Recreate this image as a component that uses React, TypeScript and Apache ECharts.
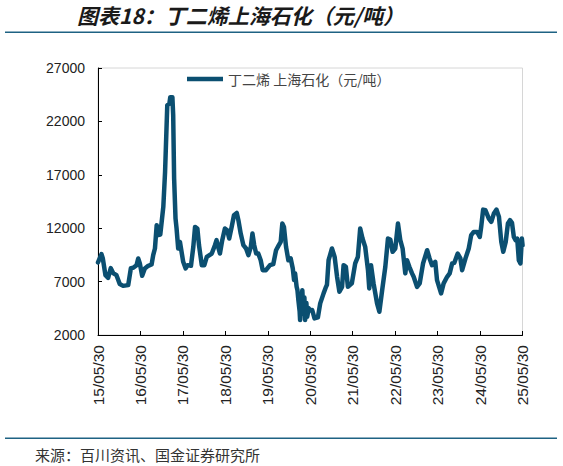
import React, { useEffect, useRef } from "react";
import * as echarts from "echarts";

const titleText = "图表18：丁二烯上海石化（元/吨）";
const sourceText = "来源：百川资讯、国金证券研究所";
const seriesName = "丁二烯 上海石化（元/吨）";

const xTickLabels = [
  "15/05/30", "16/05/30", "17/05/30", "18/05/30", "19/05/30", "20/05/30",
  "21/05/30", "22/05/30", "23/05/30", "24/05/30", "25/05/30",
];
const yTicks = [2000, 7000, 12000, 17000, 22000, 27000];

const dates = [
  "2015-05-30", "2015-06-29", "2015-07-10", "2015-08-02", "2015-08-25", "2015-09-17",
  "2015-10-07", "2015-11-05", "2015-12-03", "2016-01-01", "2016-02-14", "2016-03-08",
  "2016-03-28", "2016-04-26", "2016-05-10", "2016-05-24", "2016-06-13", "2016-07-06",
  "2016-08-04", "2016-09-02", "2016-09-16", "2016-10-01", "2016-10-16", "2016-10-29",
  "2016-11-16", "2016-11-28", "2016-12-12", "2016-12-27", "2017-01-15", "2017-02-02",
  "2017-02-10", "2017-02-28", "2017-03-07", "2017-03-15", "2017-03-27", "2017-04-05",
  "2017-04-19", "2017-05-04", "2017-05-18", "2017-06-01", "2017-06-22", "2017-07-09",
  "2017-08-07", "2017-08-27", "2017-09-11", "2017-10-01", "2017-10-15", "2017-11-08",
  "2017-11-30", "2017-12-21", "2018-02-02", "2018-03-01", "2018-03-15", "2018-03-29",
  "2018-04-13", "2018-05-03", "2018-05-26", "2018-06-15", "2018-07-02", "2018-07-23",
  "2018-08-12", "2018-09-05", "2018-09-19", "2018-10-09", "2018-11-01", "2018-11-24",
  "2018-12-14", "2019-01-04", "2019-01-18", "2019-02-02", "2019-02-19", "2019-03-09",
  "2019-03-30", "2019-04-16", "2019-05-14", "2019-06-18", "2019-07-16", "2019-08-09",
  "2019-08-28", "2019-09-18", "2019-10-02", "2019-10-16", "2019-11-03", "2019-11-23",
  "2019-12-13", "2019-12-31", "2020-01-11", "2020-01-20", "2020-02-02", "2020-02-09",
  "2020-02-17", "2020-02-28", "2020-03-03", "2020-03-11", "2020-03-22", "2020-04-01",
  "2020-04-09", "2020-04-15", "2020-04-26", "2020-05-03", "2020-05-16", "2020-05-29",
  "2020-06-15", "2020-07-05", "2020-08-03", "2020-08-23", "2020-09-21", "2020-10-12",
  "2020-10-20", "2020-11-03", "2020-12-02", "2020-12-25", "2021-01-15", "2021-02-04",
  "2021-02-27", "2021-03-12", "2021-04-01", "2021-04-18", "2021-05-22", "2021-06-20",
  "2021-07-13", "2021-08-02", "2021-08-22", "2021-09-14", "2021-10-08", "2021-10-19",
  "2021-11-03", "2021-11-25", "2021-12-25", "2022-01-14", "2022-02-07", "2022-03-06",
  "2022-03-29", "2022-04-18", "2022-05-08", "2022-05-31", "2022-06-23", "2022-07-13",
  "2022-08-02", "2022-08-25", "2022-09-09", "2022-09-29", "2022-10-22", "2022-11-05",
  "2022-12-04", "2022-12-27", "2023-01-25", "2023-03-01", "2023-03-22", "2023-04-12",
  "2023-05-10", "2023-05-25", "2023-06-29", "2023-07-21", "2023-08-20", "2023-09-11",
  "2023-10-02", "2023-10-21", "2023-11-19", "2023-12-12", "2023-12-27", "2024-01-25",
  "2024-02-22", "2024-03-14", "2024-04-05", "2024-05-04", "2024-05-27", "2024-06-08",
  "2024-06-25", "2024-07-15", "2024-08-13", "2024-09-03", "2024-09-25", "2024-10-18",
  "2024-11-08", "2024-11-28", "2024-12-15", "2025-01-05", "2025-01-24", "2025-02-11",
  "2025-02-28", "2025-03-16", "2025-03-31", "2025-04-14", "2025-04-28", "2025-05-12",
  "2025-05-24", "2025-05-30",
];

const prices = [
  8800, 9570, 9200, 7600, 7350, 8260,
  7800, 7600, 6770, 6600, 6670, 8260,
  8290, 8540, 9170, 8700, 7540, 8230,
  8480, 8600, 9480, 10100, 12280, 11350,
  11400, 12600, 14000, 17260, 23500, 23650,
  24270, 24270, 22560, 16640, 12900, 11970,
  10100, 10720, 9790, 8850, 8230, 8540,
  8480, 10250, 12120, 11970, 10410, 8540,
  8540, 9320, 9630, 10410, 10880, 10250,
  9630, 10880, 11970, 11810, 11030, 12120,
  13210, 13430, 12750, 11500, 10410, 10100,
  9480, 10250, 11500, 10410, 9630, 9630,
  9000, 8070, 8070, 8540, 8630, 9940,
  10320, 10720, 12440, 12120, 10250, 9000,
  9170, 8230, 7140, 7770, 6510, 6200,
  5270, 4200, 3400, 5000, 6200, 4000,
  5500, 3400, 5000, 3700, 4500, 4300,
  4340, 3560, 3650, 4960, 5900, 6510,
  6700, 9000, 10100, 9320, 7450, 6050,
  6510, 8540, 8380, 6510, 6830, 8700,
  9320, 11970, 11030, 10250, 8070, 6360,
  8540, 6830, 4960, 4180, 6200, 8380,
  11030, 10940, 9790, 10100, 12440, 10880,
  10100, 7770, 9000, 8380, 7770, 7450,
  6510, 6830, 8700, 9940, 9170, 8540,
  8850, 7140, 5900, 6830, 7450, 7770,
  8700, 8760, 9630, 9170, 8070, 9170,
  10100, 11350, 11650, 11650, 11180, 12120,
  13740, 13680, 12900, 12600, 13370, 13740,
  13060, 10720, 9790, 10720, 12440, 12750,
  12500, 11180, 10880, 11030, 9000, 8700,
  11030, 10400,
];

const START = Date.parse("2015-05-30T00:00:00Z");
const YEAR_MS = 365.25 * 86400000;

export default function App() {
  const ref = useRef<HTMLDivElement>(null);

  useEffect(() => {
    if (!ref.current) return;
    const chart = echarts.init(ref.current, null, { renderer: "svg" });
    const base = yTicks[0];
    const step = yTicks[1] - yTicks[0];
    const top = yTicks[yTicks.length - 1];
    const data = dates.map((d, i) => [
      (Date.parse(d + "T00:00:00Z") - START) / YEAR_MS,
      prices[i] - base,
    ]);
    const lineColor = "#0b4f71";
    const ruleColor = "#1e6283";

    chart.setOption({
      animation: false,
      backgroundColor: "#ffffff",
      grid: {
        left: 98,
        right: 40.5,
        top: 68,
        bottom: 131,
        show: true,
        borderColor: "#d6d6d6",
        borderWidth: 1,
        backgroundColor: "transparent",
      },
      legend: {
        show: true,
        left: 182,
        top: 67,
        icon: "rect",
        itemWidth: 36,
        itemHeight: 4.5,
        itemGap: 10,
        textStyle: {
          fontFamily: "Noto Sans CJK SC",
          fontSize: 14,
          color: "#444444",
        },
        data: [seriesName],
      },
      xAxis: {
        type: "value",
        min: 0,
        max: xTickLabels.length - 1,
        interval: 1,
        axisLine: { show: true, onZero: false, lineStyle: { color: "#000000", width: 1 } },
        axisTick: { show: true, inside: true, length: 4, lineStyle: { color: "#000000" } },
        splitLine: { show: false },
        axisLabel: {
          rotate: 90,
          margin: 10,
          fontFamily: "Liberation Sans",
          fontSize: 15.5,
          color: "#222222",
          formatter: (v: number) => xTickLabels[Math.round(v)] ?? "",
        },
      },
      yAxis: {
        type: "value",
        min: 0,
        max: top - base,
        interval: step,
        axisLine: { show: true, lineStyle: { color: "#000000", width: 1 } },
        axisTick: { show: true, inside: true, length: 4, lineStyle: { color: "#000000" } },
        splitLine: { show: false },
        axisLabel: {
          margin: 13,
          fontFamily: "Liberation Sans",
          fontSize: 14,
          color: "#222222",
          formatter: (v: number) => String(v + base),
        },
      },
      series: [
        {
          name: seriesName,
          type: "line",
          data,
          showSymbol: false,
          symbol: "none",
          lineStyle: { color: lineColor, width: 4.5, join: "round", cap: "round" },
          itemStyle: { color: lineColor },
        },
      ],
      graphic: [
        {
          type: "text",
          left: 77,
          top: 4,
          style: {
            text: titleText,
            fontFamily: "Noto Sans CJK SC",
            fontSize: 21,
            fontWeight: "bold",
            fontStyle: "italic",
            fill: "#1a1a1a",
          },
        },
        {
          type: "line",
          shape: { x1: 5, y1: 32.3, x2: 557, y2: 32.3 },
          style: { stroke: ruleColor, lineWidth: 1.6 },
        },
        {
          type: "line",
          shape: { x1: 5, y1: 438.3, x2: 557, y2: 438.3 },
          style: { stroke: ruleColor, lineWidth: 1.6 },
        },
        {
          type: "text",
          left: 35,
          top: 447,
          style: {
            text: sourceText,
            fontFamily: "Noto Sans CJK SC",
            fontSize: 15,
            fill: "#333333",
          },
        },
      ],
    });

    return () => chart.dispose();
  }, []);

  return (
    <div
      ref={ref}
      style={{ position: "fixed", left: 0, top: 0, width: 563, height: 466 }}
    />
  );
}
